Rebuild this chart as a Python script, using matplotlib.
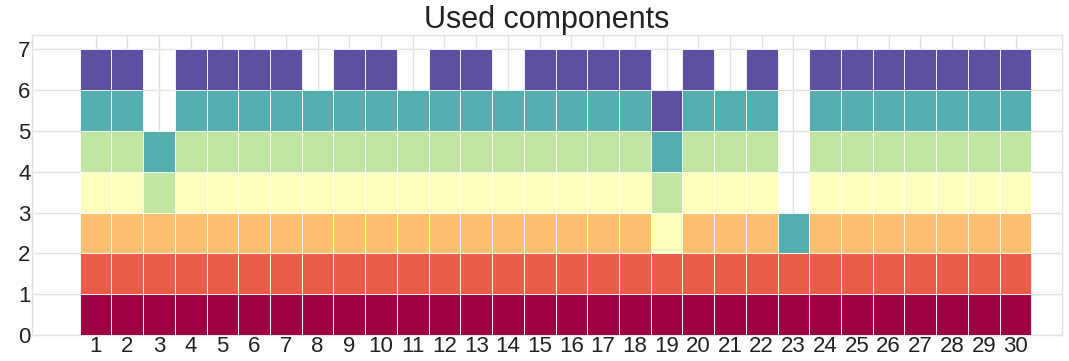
import numpy as np
import matplotlib
matplotlib.use("Agg")
import matplotlib.pyplot as plt

# components used by each of the 30 runs (index into a 7-colour Spectral map)
runs = list(range(1, 31))
all_comp = [0, 1, 2, 3, 4, 5, 6]
used = {
    3: [0, 1, 2, 4, 5],
    8: [0, 1, 2, 3, 4, 5],
    11: [0, 1, 2, 3, 4, 5],
    14: [0, 1, 2, 3, 4, 5],
    19: [0, 1, 3, 4, 5, 6],
    21: [0, 1, 2, 3, 4, 5],
    23: [0, 1, 5],
}
components = [used.get(r, all_comp) for r in runs]
n_comp = 7

plt.style.use("seaborn-v0_8-whitegrid")
plt.rcParams["font.family"] = ["Liberation Sans", "DejaVu Sans"]

colors = plt.cm.Spectral(np.linspace(0, 1, n_comp))

fig, ax = plt.subplots(figsize=(10.69, 3.61), dpi=100)
for r, comps in zip(runs, components):
    for level, c in enumerate(comps):
        ax.bar(r, 1, bottom=level, width=1.0, color=colors[c],
               edgecolor="white", linewidth=0.6, zorder=3)

ax.set_xticks(runs)
ax.set_yticks(range(0, 8))
ax.set_xlim(-1.0, 31.45)
ax.set_ylim(0, 7.35)
ax.tick_params(labelsize=16, pad=1, labelcolor="#222222")
ax.grid(True, color="#e3e3e3", linewidth=1)
for s in ax.spines.values():
    s.set_color("#e3e3e3")
ax.set_title("Used components", fontsize=22, pad=2, color="#222222")

plt.subplots_adjust(left=0.03, right=0.993, bottom=0.072, top=0.903)
plt.savefig("out.png", dpi=100)
